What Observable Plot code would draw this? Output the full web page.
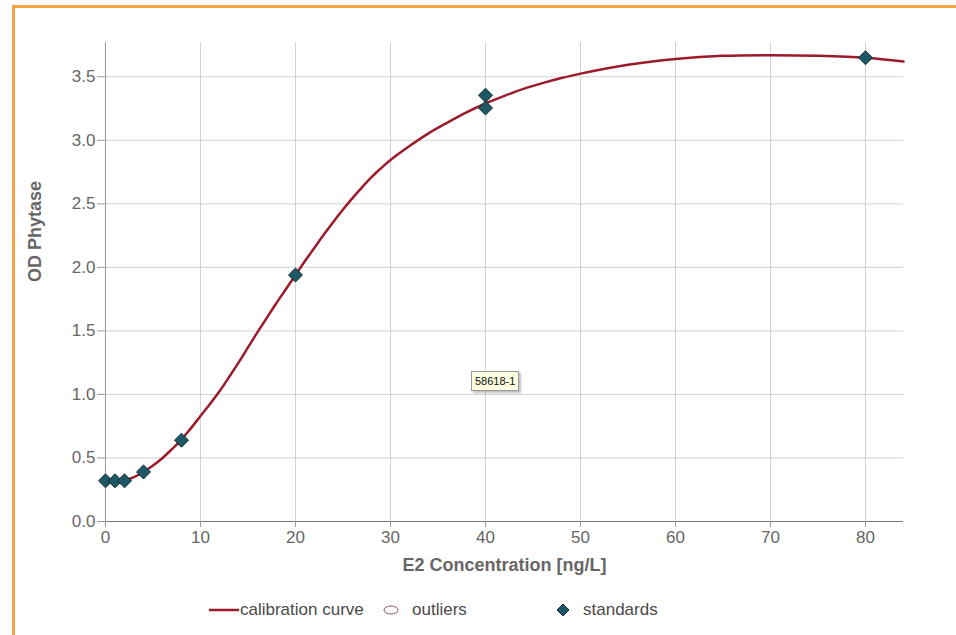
<!DOCTYPE html>
<html>
<head>
<meta charset="utf-8">
<script src="https://cdn.jsdelivr.net/npm/d3@7"></script>
<script src="https://cdn.jsdelivr.net/npm/@observablehq/plot@0.6"></script>
<style>
  html, body { margin: 0; padding: 0; background: #fff; }
  body { width: 956px; height: 635px; position: relative; overflow: hidden; font-family: "Liberation Sans", Arial, sans-serif; }
  #frame { position: absolute; left: 12px; top: 5px; width: 960px; height: 640px; border-top: 3px solid #f3a43c; border-left: 3px solid #f3a43c; }
  #chart { position: absolute; left: 0; top: 0; }
  #tip { position: absolute; left: 471px; top: 371px; padding: 2px 3px; font-size: 11px; color: #111; background: #fdfde0; border: 1px solid #999; box-shadow: 2px 2px 2px rgba(0,0,0,0.25); line-height: 14px; }
  .leg { position: absolute; top: 599px; height: 22px; line-height: 22px; font-size: 17px; color: #4a4a4a; white-space: nowrap; }
  .leg svg { position: absolute; top: 0; }
</style>
</head>
<body>
<div id="frame"></div>
<div id="chart"></div>
<div id="tip">58618-1</div>
<div id="legend"></div>
<script>
// Standards (measured points)
const stdConc = [0, 1, 2, 4, 8, 20, 40, 40, 80];
const stdOD   = [0.32, 0.32, 0.32, 0.39, 0.64, 1.94, 3.355, 3.255, 3.65];

// Calibration curve
const curveConc = [0, 1, 2, 3, 4, 5, 6, 7, 8, 9, 10, 11, 12, 13, 14, 15, 16, 17, 18, 19, 20, 21, 22, 23, 24, 25, 26, 27, 28, 29, 30, 32, 34, 36, 38, 40, 42, 44, 46, 48, 50, 55, 60, 65, 70, 75, 80, 84];
const curveOD   = [0.31, 0.315, 0.325, 0.35, 0.39, 0.44, 0.50, 0.57, 0.645, 0.735, 0.83, 0.925, 1.025, 1.135, 1.25, 1.37, 1.49, 1.605, 1.72, 1.83, 1.94, 2.05, 2.155, 2.26, 2.36, 2.455, 2.545, 2.63, 2.71, 2.78, 2.845, 2.955, 3.055, 3.14, 3.22, 3.29, 3.35, 3.405, 3.45, 3.49, 3.525, 3.595, 3.64, 3.665, 3.67, 3.665, 3.65, 3.62];

const xTicks = [0, 10, 20, 30, 40, 50, 60, 70, 80];
const yTicks = [0, 0.5, 1.0, 1.5, 2.0, 2.5, 3.0, 3.5];

const xLabel = "E2 Concentration [ng/L]";
const yLabel = "OD Phytase";
const legendLabels = ["calibration curve", "outliers", "standards"];

const standards = stdConc.map((c, i) => ({conc: c, od: stdOD[i]}));
const curve = curveConc.map((c, i) => ({conc: c, od: curveOD[i]}));

const chart = Plot.plot({
  width: 956,
  height: 580,
  marginLeft: 105,
  marginRight: 53,
  marginTop: 42,
  marginBottom: 59,
  style: {fontFamily: "'Liberation Sans', Arial, sans-serif", fontSize: "17px", color: "#666", background: "transparent", overflow: "visible"},
  x: {domain: [0, 84]},
  y: {domain: [0, 3.77]},
  marks: [
    Plot.gridX(xTicks, {stroke: "#d2d2d2", strokeOpacity: 1}),
    Plot.gridY(yTicks, {stroke: "#d2d2d2", strokeOpacity: 1}),
    Plot.ruleX([0], {stroke: "#9a9a9a"}),
    Plot.ruleY([0], {stroke: "#777"}),
    Plot.axisX(xTicks, {tickSize: 6, tickPadding: 3, stroke: "#999", fill: "#666", fontSize: 17, label: null}),
    Plot.axisY(yTicks, {tickSize: 8, tickPadding: 2, stroke: "#999", fill: "#666", fontSize: 17, tickFormat: d3.format(".1f"), label: null}),
    Plot.text([xLabel], {frameAnchor: "bottom", dy: 49, fontWeight: "bold", fontSize: 18, fill: "#666"}),
    Plot.text([yLabel], {frameAnchor: "left", rotate: -90, dx: -70, fontWeight: "bold", fontSize: 18, fill: "#666"}),
    Plot.line(curve, {x: "conc", y: "od", curve: "catmull-rom", stroke: "#9b1b2b", strokeWidth: 2.5}),
    Plot.dot(standards, {x: "conc", y: "od", symbol: "diamond2", r: 6.3, fill: "#1e5866", stroke: "#122a33", strokeWidth: 1})
  ]
});
document.getElementById("chart").appendChild(chart);

// Legend
const legend = document.getElementById("legend");
const items = [
  {left: 208, textLeft: 240, icon: '<svg width="32" height="22" style="left:0"><line x1="1" y1="11" x2="31" y2="11" stroke="#9b1b2b" stroke-width="2.5"/></svg>'},
  {left: 382, textLeft: 412, icon: '<svg width="20" height="22" style="left:0"><ellipse cx="9" cy="11" rx="7" ry="4" fill="#fff" stroke="#8a5a62" stroke-width="1"/></svg>'},
  {left: 556, textLeft: 583, icon: '<svg width="16" height="22" style="left:0"><path d="M7,5 L13,11 L7,17 L1,11 Z" fill="#1e5866" stroke="#122a33" stroke-width="1"/></svg>'}
];
items.forEach((it, i) => {
  const d = document.createElement("div");
  d.className = "leg";
  d.style.left = it.left + "px";
  d.innerHTML = it.icon + '<span style="position:absolute;left:' + (it.textLeft - it.left) + 'px">' + legendLabels[i] + '</span>';
  legend.appendChild(d);
});
</script>
</body>
</html>
